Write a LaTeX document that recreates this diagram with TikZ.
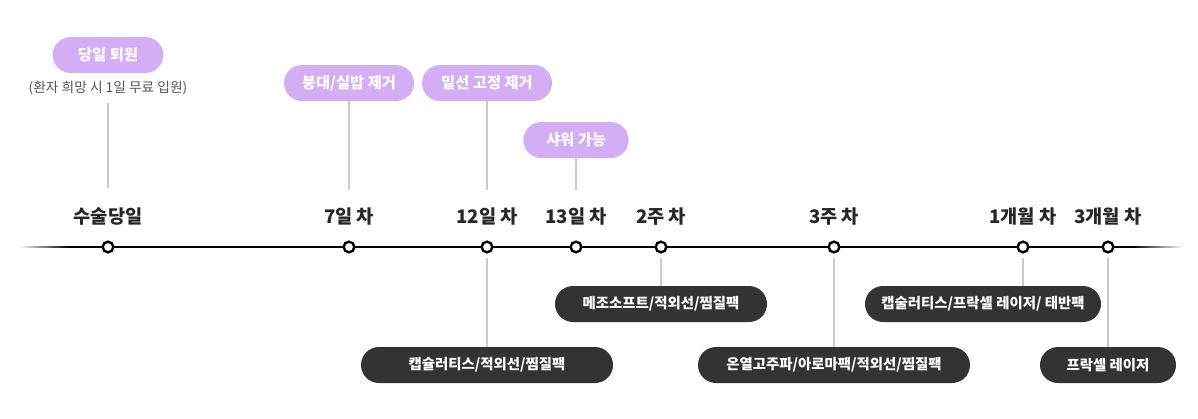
\documentclass[tikz,border=0pt]{standalone}
\usepackage{fontspec}
\setmainfont{Noto Sans CJK KR}
\usepackage{xcolor}
\usetikzlibrary{positioning,calc}
\definecolor{pillpurple}{HTML}{D3AEF5}
\definecolor{pilldark}{HTML}{333333}
\definecolor{stemgray}{HTML}{CACACA}
\definecolor{notegray}{HTML}{555555}

\begin{document}
\begin{tikzpicture}[
  x=0.75pt,y=-0.75pt,
  dot/.style={circle,draw=black,fill=white,line width=1.8pt,inner sep=0pt,minimum size=8pt},
  day/.style={font=\bfseries\fontsize{14}{16}\selectfont,text=black!85,inner sep=2pt},
  soon/.style={rounded corners=13.5pt,fill=pillpurple,text=white,minimum height=27pt,inner xsep=0pt,
    font=\bfseries\fontsize{11.5}{13}\selectfont},
  care/.style={rounded corners=13.5pt,fill=pilldark,text=white,minimum height=27pt,inner xsep=0pt,
    font=\bfseries\fontsize{10.8}{12}\selectfont},
  stem/.style={draw=stemgray,line width=1.1pt},
  node distance=9pt
]
\useasboundingbox (0,0) rectangle (1198,418);

% timeline with faded ends
\foreach \i in {0,...,19} {
  \pgfmathsetmacro{\shadepct}{5*(\i+1)}
  \fill[black!\shadepct] (20+2.5*\i,245.6) rectangle (22.6+2.5*\i,248.4);
  \fill[black!\shadepct] (1182-2.5*\i,245.6) rectangle (1179.4-2.5*\i,248.4);
}
\fill[black] (70,245.6) rectangle (1132,248.4);

\node[dot] (d1) at (108,247) {};
\node[dot] (d2) at (349,247) {};
\node[dot] (d3) at (487,247) {};
\node[dot] (d4) at (576,247) {};
\node[dot] (d5) at (661,247) {};
\node[dot] (d6) at (834,247) {};
\node[dot] (d7) at (1023,247) {};
\node[dot] (d8) at (1108,247) {};

\node[day,above=of d1] (l1) {수술당일};
\node[day,above=of d2] (l2) {7일 차};
\node[day,above=of d3] (l3) {12일 차};
\node[day,above=of d4] (l4) {13일 차};
\node[day,above=of d5] (l5) {2주 차};
\node[day,above=of d6] (l6) {3주 차};
\node[day,above=of d7] (l7) {1개월 차};
\node[day,above=of d8] (l8) {3개월 차};

% upper events
\node[soon,minimum width=83pt] (leave) at (108,55) {당일 퇴원};
\node[font=\fontsize{10.3}{12}\selectfont,text=notegray,inner sep=1pt] (stay) at (108,88) {(환자 희망 시 1일 무료 입원)};
\node[soon,minimum width=97.5pt] (band) at (349,83) {붕대/실밥 제거};
\node[soon,minimum width=97.5pt] (fix) at (487,83) {밑선 고정 제거};
\node[soon,minimum width=79pt] (shower) at (576,140) {샤워 가능};

\coordinate (t1) at (108,188);
\coordinate (t2) at (349,190);
\coordinate (t3) at (487,190);
\coordinate (t4) at (576,190);
\draw[stem,shorten <=5pt] (stay.south) -- (t1);
\draw[stem] (band.south) -- (t2);
\draw[stem] (fix.south) -- (t3);
\draw[stem] (shower.south) -- (t4);

% lower care
\node[care,minimum width=159pt] (meso) at (661,304) {메조소프트/적외선/찜질팩};
\node[care,minimum width=189pt] (caps) at (487,365) {캡슐러티스/적외선/찜질팩};
\node[care,minimum width=204pt] (heat) at (834,365) {온열고주파/아로마팩/적외선/찜질팩};
\node[care,minimum width=177pt] (caps2) at (983,304) {캡술러티스/프락셀 레이저/ 태반팩};
\node[care,minimum width=102pt] (laser) at (1108,365) {프락셀 레이저};

\draw[stem,shorten <=3pt] (d3.south) -- (caps.north);
\draw[stem,shorten <=3pt] (d5.south) -- (meso.north);
\draw[stem,shorten <=3pt] (d6.south) -- (heat.north);
\draw[stem,shorten <=3pt] (d7.south) -- (d7.south |- caps2.north);
\draw[stem,shorten <=3pt] (d8.south) -- (laser.north);
\end{tikzpicture}
\end{document}
